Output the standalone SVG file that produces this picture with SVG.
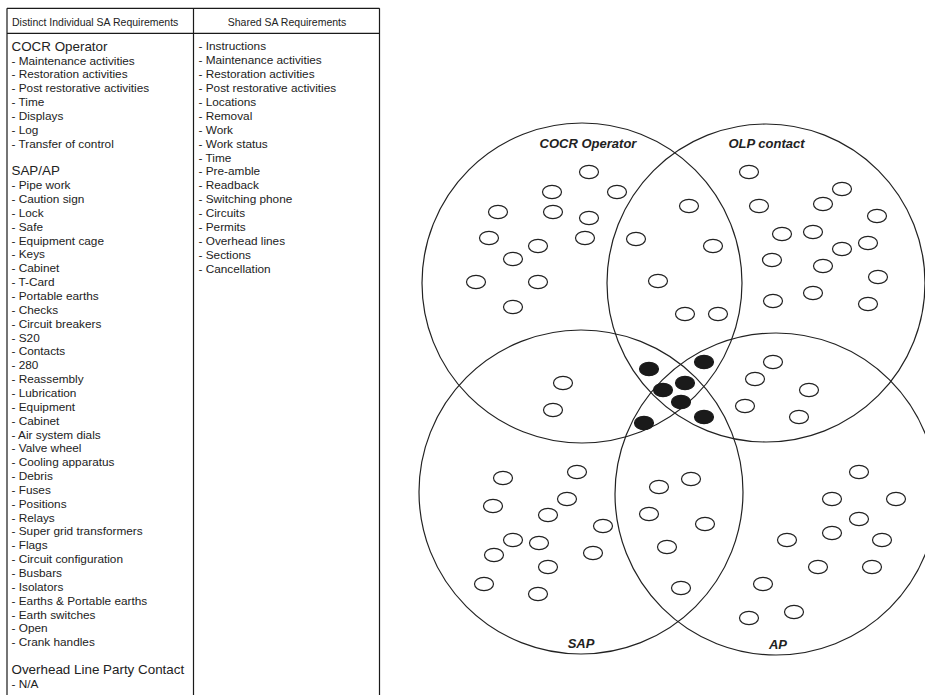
<svg xmlns="http://www.w3.org/2000/svg" xmlns:xlink="http://www.w3.org/1999/xlink" width="925" height="695" viewBox="0 0 925 695">
  <style>
    .grid { stroke: #1a1a1a; stroke-width: 1.2; fill: none; }
    .hdr { font-family: "Liberation Sans", Arial, sans-serif; font-size: 10.5px; fill: #222; }
    .col { font-family: "Liberation Sans", Arial, sans-serif; font-size: 11.8px; fill: #222; }
    .col .grp { font-size: 13.4px; }
    .set { fill: none; stroke: #222; stroke-width: 1.2; }
    .lbl { font-family: "Liberation Sans", Arial, sans-serif; font-size: 13px; font-weight: bold; font-style: italic; fill: #222; text-anchor: middle; }
    .req { fill: #fff; stroke: #222; stroke-width: 1.2; }
    .core { fill: #1a1a1a; stroke: #1a1a1a; stroke-width: 1.2; }
  </style>
  <defs>
    <ellipse id="e" rx="9.5" ry="6.6"/>
  </defs>
  <rect width="925" height="695" fill="#fff"/>

  <!-- requirements table -->
  <g id="table">
    <path class="grid" d="M7,8.3 H379.5 M7,33.3 H379.5 M7,8.3 V695 M193.5,8.3 V695 M379.5,8.3 V695"/>
    <text class="hdr" x="12" y="25.6">Distinct Individual SA Requirements</text>
    <text class="hdr" x="287" y="25.6" text-anchor="middle">Shared SA Requirements</text>

    <text class="col" x="11.5" y="50.7">
      <tspan class="grp" x="11.5" dy="0">COCR Operator</tspan>
      <tspan x="11.5" dy="13.85">- Maintenance activities</tspan>
      <tspan x="11.5" dy="13.85">- Restoration activities</tspan>
      <tspan x="11.5" dy="13.85">- Post restorative activities</tspan>
      <tspan x="11.5" dy="13.85">- Time</tspan>
      <tspan x="11.5" dy="13.85">- Displays</tspan>
      <tspan x="11.5" dy="13.85">- Log</tspan>
      <tspan x="11.5" dy="13.85">- Transfer of control</tspan>
      <tspan class="grp" x="11.5" dy="27.7">SAP/AP</tspan>
      <tspan x="11.5" dy="13.85">- Pipe work</tspan>
      <tspan x="11.5" dy="13.85">- Caution sign</tspan>
      <tspan x="11.5" dy="13.85">- Lock</tspan>
      <tspan x="11.5" dy="13.85">- Safe</tspan>
      <tspan x="11.5" dy="13.85">- Equipment cage</tspan>
      <tspan x="11.5" dy="13.85">- Keys</tspan>
      <tspan x="11.5" dy="13.85">- Cabinet</tspan>
      <tspan x="11.5" dy="13.85">- T-Card</tspan>
      <tspan x="11.5" dy="13.85">- Portable earths</tspan>
      <tspan x="11.5" dy="13.85">- Checks</tspan>
      <tspan x="11.5" dy="13.85">- Circuit breakers</tspan>
      <tspan x="11.5" dy="13.85">- S20</tspan>
      <tspan x="11.5" dy="13.85">- Contacts</tspan>
      <tspan x="11.5" dy="13.85">- 280</tspan>
      <tspan x="11.5" dy="13.85">- Reassembly</tspan>
      <tspan x="11.5" dy="13.85">- Lubrication</tspan>
      <tspan x="11.5" dy="13.85">- Equipment</tspan>
      <tspan x="11.5" dy="13.85">- Cabinet</tspan>
      <tspan x="11.5" dy="13.85">- Air system dials</tspan>
      <tspan x="11.5" dy="13.85">- Valve wheel</tspan>
      <tspan x="11.5" dy="13.85">- Cooling apparatus</tspan>
      <tspan x="11.5" dy="13.85">- Debris</tspan>
      <tspan x="11.5" dy="13.85">- Fuses</tspan>
      <tspan x="11.5" dy="13.85">- Positions</tspan>
      <tspan x="11.5" dy="13.85">- Relays</tspan>
      <tspan x="11.5" dy="13.85">- Super grid transformers</tspan>
      <tspan x="11.5" dy="13.85">- Flags</tspan>
      <tspan x="11.5" dy="13.85">- Circuit configuration</tspan>
      <tspan x="11.5" dy="13.85">- Busbars</tspan>
      <tspan x="11.5" dy="13.85">- Isolators</tspan>
      <tspan x="11.5" dy="13.85">- Earths &amp; Portable earths</tspan>
      <tspan x="11.5" dy="13.85">- Earth switches</tspan>
      <tspan x="11.5" dy="13.85">- Open</tspan>
      <tspan x="11.5" dy="13.85">- Crank handles</tspan>
      <tspan class="grp" x="11.5" dy="27.7">Overhead Line Party Contact</tspan>
      <tspan x="11.5" dy="13.85">- N/A</tspan>
    </text>

    <text class="col" x="198.5" y="50.3">
      <tspan x="198.5" dy="0">- Instructions</tspan>
      <tspan x="198.5" dy="13.9">- Maintenance activities</tspan>
      <tspan x="198.5" dy="13.9">- Restoration activities</tspan>
      <tspan x="198.5" dy="13.9">- Post restorative activities</tspan>
      <tspan x="198.5" dy="13.9">- Locations</tspan>
      <tspan x="198.5" dy="13.9">- Removal</tspan>
      <tspan x="198.5" dy="13.9">- Work</tspan>
      <tspan x="198.5" dy="13.9">- Work status</tspan>
      <tspan x="198.5" dy="13.9">- Time</tspan>
      <tspan x="198.5" dy="13.9">- Pre-amble</tspan>
      <tspan x="198.5" dy="13.9">- Readback</tspan>
      <tspan x="198.5" dy="13.9">- Switching phone</tspan>
      <tspan x="198.5" dy="13.9">- Circuits</tspan>
      <tspan x="198.5" dy="13.9">- Permits</tspan>
      <tspan x="198.5" dy="13.9">- Overhead lines</tspan>
      <tspan x="198.5" dy="13.9">- Sections</tspan>
      <tspan x="198.5" dy="13.9">- Cancellation</tspan>
    </text>
  </g>

  <!-- four overlapping role sets -->
  <g id="set-cocr">
    <circle class="set" cx="582" cy="283" r="160"/>
    <text class="lbl" x="588" y="147.5">COCR Operator</text>
  </g>
  <g id="set-olp">
    <circle class="set" cx="766" cy="283" r="159"/>
    <text class="lbl" x="766.5" y="147.5">OLP contact</text>
  </g>
  <g id="set-sap">
    <circle class="set" cx="581" cy="492" r="162"/>
    <text class="lbl" x="581" y="648">SAP</text>
  </g>
  <g id="set-ap">
    <circle class="set" cx="776" cy="494" r="161"/>
    <text class="lbl" x="778" y="649.3">AP</text>
  </g>

  <!-- individual requirements (open) -->
  <g id="req-cocr" class="req">
    <use xlink:href="#e" x="589" y="172"/>
    <use xlink:href="#e" x="552" y="192"/>
    <use xlink:href="#e" x="617" y="192"/>
    <use xlink:href="#e" x="498" y="212"/>
    <use xlink:href="#e" x="553" y="212"/>
    <use xlink:href="#e" x="589" y="218"/>
    <use xlink:href="#e" x="489" y="238"/>
    <use xlink:href="#e" x="585" y="238"/>
    <use xlink:href="#e" x="538" y="246"/>
    <use xlink:href="#e" x="513" y="259"/>
    <use xlink:href="#e" x="476" y="282"/>
    <use xlink:href="#e" x="538" y="282"/>
    <use xlink:href="#e" x="513" y="307"/>
  </g>
  <g id="req-cocr-olp" class="req">
    <use xlink:href="#e" x="689" y="206"/>
    <use xlink:href="#e" x="636" y="239"/>
    <use xlink:href="#e" x="713" y="246"/>
    <use xlink:href="#e" x="658" y="281"/>
    <use xlink:href="#e" x="685" y="314"/>
    <use xlink:href="#e" x="718" y="314"/>
  </g>
  <g id="req-olp" class="req">
    <use xlink:href="#e" x="749" y="172"/>
    <use xlink:href="#e" x="759" y="206"/>
    <use xlink:href="#e" x="842" y="189"/>
    <use xlink:href="#e" x="823" y="204"/>
    <use xlink:href="#e" x="877" y="216"/>
    <use xlink:href="#e" x="782" y="234"/>
    <use xlink:href="#e" x="813" y="232"/>
    <use xlink:href="#e" x="842" y="249"/>
    <use xlink:href="#e" x="868" y="243"/>
    <use xlink:href="#e" x="772" y="260"/>
    <use xlink:href="#e" x="823" y="266"/>
    <use xlink:href="#e" x="878" y="277"/>
    <use xlink:href="#e" x="813" y="293"/>
    <use xlink:href="#e" x="773" y="301"/>
    <use xlink:href="#e" x="868" y="304"/>
  </g>
  <g id="req-cocr-sap" class="req">
    <use xlink:href="#e" x="563" y="383"/>
    <use xlink:href="#e" x="553" y="410"/>
  </g>
  <g id="req-olp-ap" class="req">
    <use xlink:href="#e" x="773" y="362"/>
    <use xlink:href="#e" x="755" y="379"/>
    <use xlink:href="#e" x="809" y="390"/>
    <use xlink:href="#e" x="745" y="406"/>
    <use xlink:href="#e" x="799" y="417"/>
  </g>
  <g id="req-sap" class="req">
    <use xlink:href="#e" x="503" y="478"/>
    <use xlink:href="#e" x="577" y="472"/>
    <use xlink:href="#e" x="493" y="506"/>
    <use xlink:href="#e" x="567" y="499"/>
    <use xlink:href="#e" x="548" y="515"/>
    <use xlink:href="#e" x="603" y="526"/>
    <use xlink:href="#e" x="513" y="540"/>
    <use xlink:href="#e" x="539" y="543"/>
    <use xlink:href="#e" x="494" y="555"/>
    <use xlink:href="#e" x="593" y="553"/>
    <use xlink:href="#e" x="548" y="567"/>
    <use xlink:href="#e" x="484" y="584"/>
    <use xlink:href="#e" x="538" y="594"/>
  </g>
  <g id="req-sap-ap" class="req">
    <use xlink:href="#e" x="691" y="479"/>
    <use xlink:href="#e" x="659" y="487"/>
    <use xlink:href="#e" x="649" y="514"/>
    <use xlink:href="#e" x="705" y="524"/>
    <use xlink:href="#e" x="667" y="547"/>
    <use xlink:href="#e" x="681" y="588"/>
  </g>
  <g id="req-ap" class="req">
    <use xlink:href="#e" x="859" y="472"/>
    <use xlink:href="#e" x="832" y="499"/>
    <use xlink:href="#e" x="896" y="499"/>
    <use xlink:href="#e" x="859" y="519"/>
    <use xlink:href="#e" x="832" y="533"/>
    <use xlink:href="#e" x="787" y="540"/>
    <use xlink:href="#e" x="882" y="540"/>
    <use xlink:href="#e" x="818" y="567"/>
    <use xlink:href="#e" x="872" y="567"/>
    <use xlink:href="#e" x="763" y="584"/>
    <use xlink:href="#e" x="749" y="618"/>
    <use xlink:href="#e" x="794" y="612"/>
  </g>

  <!-- requirements common to all roles (filled) -->
  <g id="req-core" class="core">
    <use xlink:href="#e" x="649" y="369"/>
    <use xlink:href="#e" x="704" y="362"/>
    <use xlink:href="#e" x="663" y="390"/>
    <use xlink:href="#e" x="685" y="383"/>
    <use xlink:href="#e" x="681" y="402"/>
    <use xlink:href="#e" x="644" y="423"/>
    <use xlink:href="#e" x="704" y="417"/>
  </g>
</svg>
